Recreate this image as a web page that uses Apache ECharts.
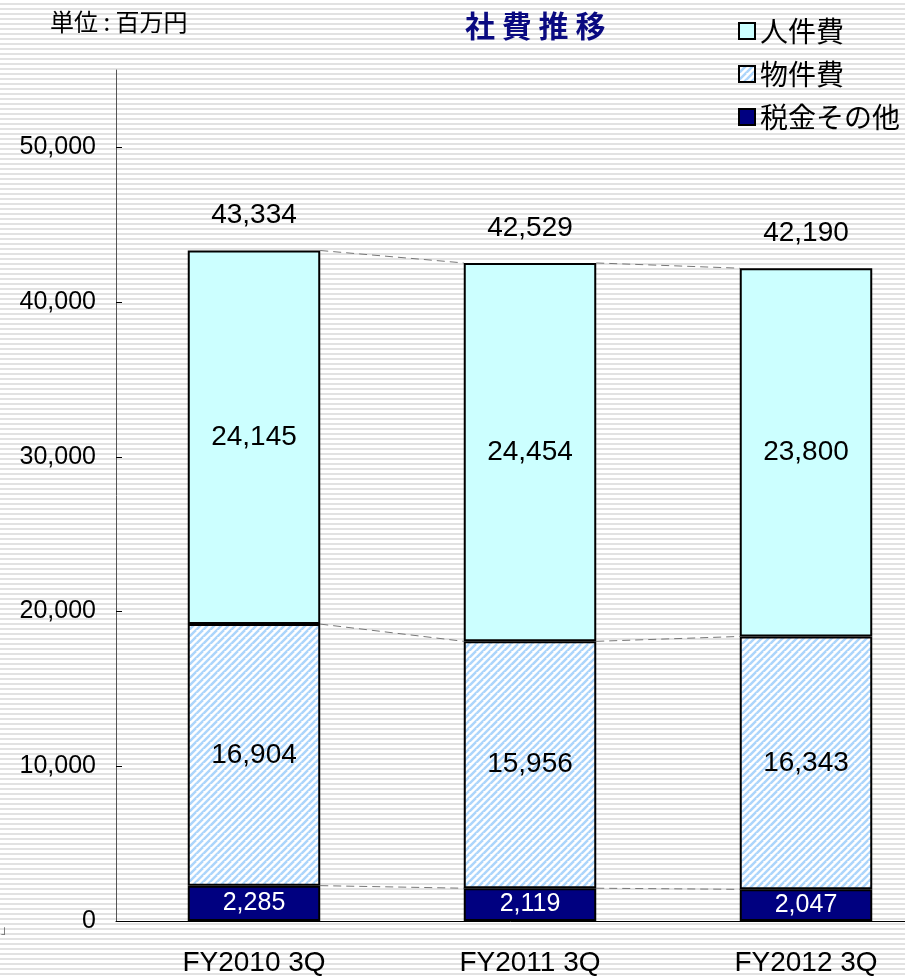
<!DOCTYPE html>
<html>
<head>
<meta charset="utf-8">
<script src="https://cdn.jsdelivr.net/npm/echarts@6/dist/echarts.min.js"></script>
<style>
	html, body { margin: 0; padding: 0; }
	body {
		width: 905px; height: 977px; overflow: hidden;
		background: repeating-linear-gradient(to bottom, #ffffff 0px, #ffffff 3px, #e2e2e2 3px, #e2e2e2 5px);
	}
	#main { width: 905px; height: 977px; }
</style>
</head>
<body>
<div id="main"></div>
<script>
var categories = ['FY2010 3Q', 'FY2011 3Q', 'FY2012 3Q'];
var taxOther = [2285, 2119, 2047];      // 税金その他
var goodsCost = [16904, 15956, 16343];  // 物件費
var staffCost = [24145, 24454, 23800];  // 人件費
var totals = [43334, 42529, 42190];
var yTicks = [0, 10000, 20000, 30000, 40000, 50000];

var FONT = 'Liberation Sans, Arial, Noto Sans CJK JP, sans-serif';
var CJK = 'Noto Sans CJK JP, sans-serif';

// hatch pattern for 物件費
function hatch() {
	var c = document.createElement('canvas');
	c.width = 7; c.height = 7;
	var ctx = c.getContext('2d');
	ctx.fillStyle = '#ffffff';
	ctx.fillRect(0, 0, 7, 7);
	ctx.strokeStyle = '#acd5fb';
	ctx.lineWidth = 2.5;
	for (var k = -7; k <= 14; k += 7) {
		ctx.beginPath();
		ctx.moveTo(k - 7, 14);
		ctx.lineTo(k + 7, 0);
		ctx.stroke();
	}
	return { image: c, repeat: 'repeat' };
}

// cumulative tops used by the dashed connector lines
var level1 = [], level2 = [];
for (var i = 0; i < categories.length; i++) {
	level1.push(taxOther[i]);
	level2.push(taxOther[i] + goodsCost[i]);
}
var links = [];
[level1, level2, totals].forEach(function (lv) {
	for (var i = 0; i < lv.length - 1; i++) {
		links.push([i, lv[i], lv[i + 1]]);
	}
});

function fmt(p) { return p.value.toLocaleString('en-US'); }

var myChart = echarts.init(document.getElementById('main'));
var BAR = 0.48;
option = {
	backgroundColor: 'transparent',
	animation: false,
	graphic: [
		{ type: 'text', left: 50, top: 10, style: { text: '単位 : 百万円', font: '24px ' + CJK, fill: '#000' } },
		{ type: 'text', left: 465, top: 11, style: { text: '社 費 推 移', font: 'bold 30px ' + CJK, fill: '#0a0a80' } },
		{ type: 'text', left: 1, top: 924, style: { text: '」', font: '11px ' + CJK, fill: '#666' } }
	],
	legend: {
		orient: 'vertical',
		left: 733, top: 11,
		itemWidth: 16, itemHeight: 16,
		itemGap: 13,
		icon: 'rect',
		data: ['人件費', '物件費', '税金その他'],
		textStyle: { fontFamily: CJK, fontSize: 28, color: '#000', lineHeight: 30 }
	},
	grid: { left: 116, width: 828, top: 70, bottom: 56, outerBoundsMode: 'none' },
	xAxis: {
		type: 'category',
		data: categories,
		axisLine: { lineStyle: { color: '#000', width: 1 } },
		axisTick: { inside: true, length: 9, lineStyle: { color: '#000' } },
		axisLabel: { fontFamily: FONT, fontSize: 28, color: '#000', margin: 28 }
	},
	yAxis: {
		type: 'value',
		min: 0, max: 55000,
		splitLine: { show: false },
		axisLine: { show: true, lineStyle: { color: '#555' } },
		axisTick: { show: true, inside: true, length: 6, lineStyle: { color: '#000' }, customValues: yTicks },
		axisLabel: {
			fontFamily: FONT, fontSize: 25, color: '#000', margin: 20,
			customValues: yTicks,
			formatter: function (v) { return v.toLocaleString('en-US'); }
		}
	},
	series: [
		{
			name: '税金その他', type: 'bar', stack: 'a', barWidth: BAR * 100 + '%',
			data: taxOther,
			itemStyle: { color: '#000080', borderColor: '#000', borderWidth: 2 },
			label: { show: true, position: 'inside', color: '#fff', fontFamily: FONT, fontSize: 25, formatter: fmt }
		},
		{
			name: '物件費', type: 'bar', stack: 'a',
			data: goodsCost,
			itemStyle: { color: hatch(), borderColor: '#000', borderWidth: 2 },
			label: { show: true, position: 'inside', color: '#000', fontFamily: FONT, fontSize: 28, formatter: fmt }
		},
		{
			name: '人件費', type: 'bar', stack: 'a',
			data: staffCost,
			itemStyle: { color: '#ccffff', borderColor: '#000', borderWidth: 2 },
			label: { show: true, position: 'inside', color: '#000', fontFamily: FONT, fontSize: 28, formatter: fmt }
		},
		{
			name: '合計', type: 'custom',
			data: totals.map(function (v, i) { return [i, v]; }),
			z: 5,
			renderItem: function (params, api) {
				var p = api.coord([api.value(0), api.value(1)]);
				return {
					type: 'text',
					style: {
						text: api.value(1).toLocaleString('en-US'),
						x: p[0], y: p[1] - 35,
						align: 'center', verticalAlign: 'middle',
						font: '28px ' + FONT, fill: '#000'
					}
				};
			}
		},
		{
			name: 'links', type: 'custom',
			data: links,
			z: 1,
			renderItem: function (params, api) {
				var i = api.value(0);
				var p1 = api.coord([i, api.value(1)]);
				var p2 = api.coord([i + 1, api.value(2)]);
				var hw = api.size([1, 0])[0] * BAR / 2;
				return {
					type: 'line',
					shape: { x1: p1[0] + hw, y1: p1[1], x2: p2[0] - hw, y2: p2[1] },
					style: { stroke: '#777', lineWidth: 1, lineDash: [8, 5] }
				};
			}
		}
	]
};
myChart.setOption(option);
</script>
</body>
</html>
